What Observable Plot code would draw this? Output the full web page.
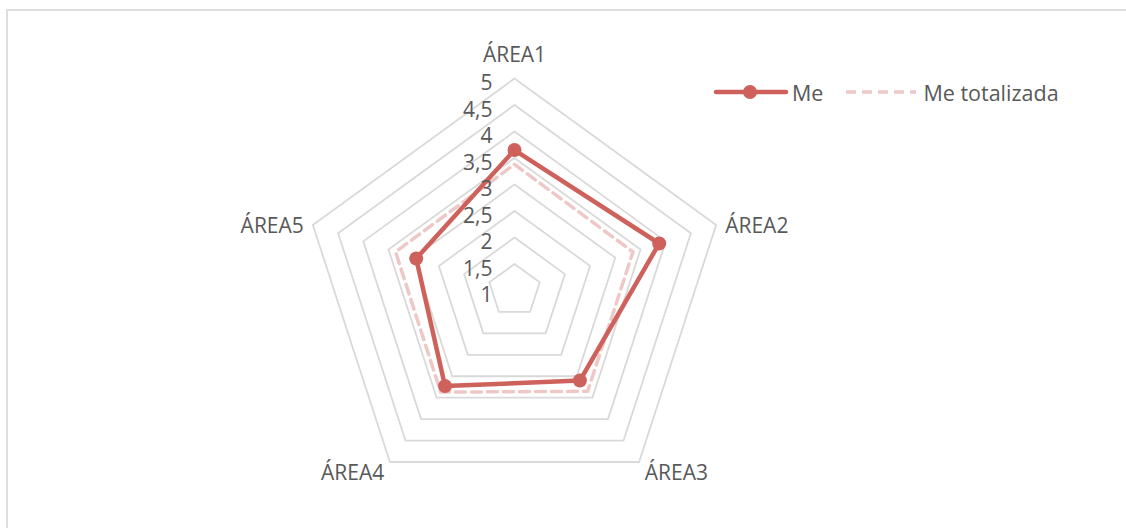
<!DOCTYPE html>
<html>
<head>
<meta charset="utf-8">
<script src="https://cdn.jsdelivr.net/npm/d3@7"></script>
<script src="https://cdn.jsdelivr.net/npm/@observablehq/plot@0.6"></script>
<style>
  html, body { margin: 0; padding: 0; background: #fff; }
  #wrap { position: relative; width: 1126px; height: 528px; overflow: hidden; }
  #frame { position: absolute; left: 6px; top: 9px; right: -4px; bottom: -4px;
           border-top: 2px solid #dedede; border-left: 2px solid #dedede; pointer-events: none; }
  #legend { position: absolute; left: 713px; top: 80px; display: flex; align-items: center;
            font-family: "Open Sans", sans-serif; font-size: 21.5px; color: #595959; line-height: 24px; }
  #legend span { position: relative; top: 1px; }
  #legend svg { display: block; }
</style>
</head>
<body>
<div id="wrap">
  <div id="chart"></div>
  <div id="frame"></div>
  <div id="legend"></div>
</div>
<script>
// ---- data ----
const categories = ["ÁREA1", "ÁREA2", "ÁREA3", "ÁREA4", "ÁREA5"];
const me = [3.65, 3.87, 3.10, 3.23, 2.95];
const meTotalizada = [3.38, 3.35, 3.35, 3.37, 3.36];
const gridLevels = [1.5, 2, 2.5, 3, 3.5, 4, 4.5, 5];
const tickValues = [1, 1.5, 2, 2.5, 3, 3.5, 4, 4.5, 5];
const tickLabels = ["1", "1,5", "2", "2,5", "3", "3,5", "4", "4,5", "5"];
const seriesNames = ["Me", "Me totalizada"];

// ---- layout helpers ----
const W = 1126, H = 528;
const cx = 514, cy = 290, k = 53; // center in px and px per unit
const rMin = 1;                   // value at center
const redColor = "#CE615B";
const n = categories.length;
const angle = i => Math.PI / 2 - i * 2 * Math.PI / n;
const polar = (i, v) => ({x: (v - rMin) * Math.cos(angle(i)), y: (v - rMin) * Math.sin(angle(i))});

const grid = gridLevels.flatMap(level => categories.map((c, i) => ({level, ...polar(i, level)})));
const meData = me.map((v, i) => ({cat: categories[i], value: v, ...polar(i, v)}));
const totData = meTotalizada.map((v, i) => ({cat: categories[i], value: v, ...polar(i, v)}));
const ticks = tickValues.map((v, j) => ({label: tickLabels[j], x: 0, y: v - rMin}));

const labelData = categories.map((c, i) => {
  const a = angle(i);
  const top = Math.abs(Math.cos(a)) < 0.01;
  const r = top ? 5.44 : 5.18;
  return {label: c, x: (r - rMin) * Math.cos(a), y: (r - rMin) * Math.sin(a),
          side: top ? "middle" : (Math.cos(a) > 0 ? "start" : "end")};
});

const textStyle = {fill: "#595959", fontSize: 21, fontFamily: "Open Sans, sans-serif"};

const chart = Plot.plot({
  width: W,
  height: H,
  margin: 0,
  x: {domain: [-cx / k, (W - cx) / k], axis: null},
  y: {domain: [-(H - cy) / k, cy / k], axis: null},
  style: {fontFamily: "Open Sans, sans-serif", background: "transparent"},
  marks: [
    Plot.line(grid, {x: "x", y: "y", z: "level", curve: "linear-closed", stroke: "#d9d9d9", strokeWidth: 1.8}),
    Plot.line(meData, {x: "x", y: "y", curve: "linear-closed", stroke: redColor, strokeWidth: 4.5, strokeLinejoin: "round"}),
    Plot.dot(meData, {x: "x", y: "y", r: 7, fill: redColor}),
    Plot.line(totData, {x: "x", y: "y", curve: "linear-closed", stroke: redColor, strokeOpacity: 0.35, strokeWidth: 3.5, strokeDasharray: "10,6"}),
    Plot.text(ticks, {x: "x", y: "y", text: "label", textAnchor: "end", dx: -22, dy: 5, ...textStyle}),
    Plot.text(labelData.filter(d => d.side === "middle"), {x: "x", y: "y", text: "label", textAnchor: "middle", ...textStyle}),
    Plot.text(labelData.filter(d => d.side === "start"), {x: "x", y: "y", text: "label", textAnchor: "start", dy: 4, ...textStyle}),
    Plot.text(labelData.filter(d => d.side === "end"), {x: "x", y: "y", text: "label", textAnchor: "end", dy: 4, ...textStyle})
  ]
});
document.getElementById("chart").append(chart);

// ---- legend ----
const legend = document.getElementById("legend");
legend.innerHTML =
  `<svg width="76" height="24"><line x1="3" x2="73" y1="12" y2="12" stroke="${redColor}" stroke-width="4.5" stroke-linecap="round"/><circle cx="37" cy="12" r="7" fill="${redColor}"/></svg>` +
  `<span style="margin-left:3px">${seriesNames[0]}</span>` +
  `<svg width="72" height="24" style="margin-left:22px"><line x1="1" x2="71" y1="12" y2="12" stroke="${redColor}" stroke-opacity="0.35" stroke-width="3.5" stroke-dasharray="10,6"/></svg>` +
  `<span style="margin-left:6px">${seriesNames[1]}</span>`;
</script>
</body>
</html>
